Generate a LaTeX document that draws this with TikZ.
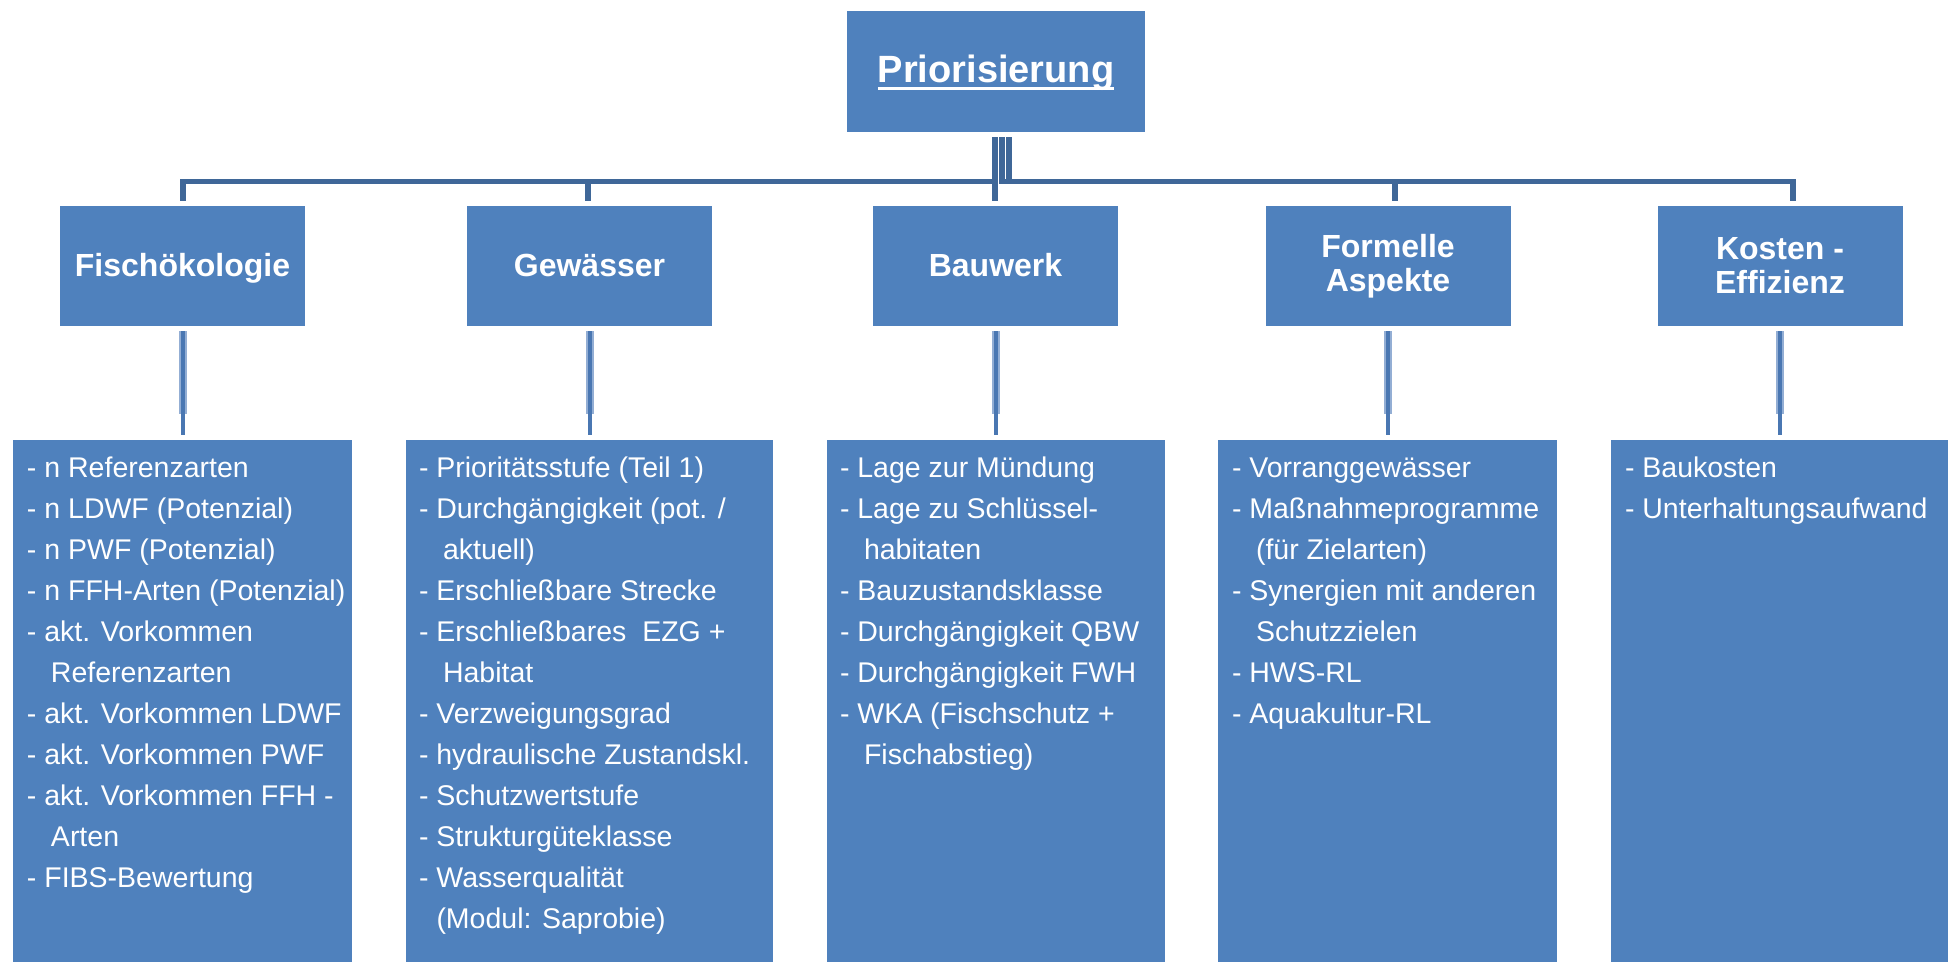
\documentclass[tikz,border=0pt]{standalone}
\usepackage{fontspec}
\setmainfont{Liberation Sans}
\definecolor{boxblue}{HTML}{4F81BD}
\definecolor{linedark}{HTML}{3F6798}
\definecolor{linemid}{HTML}{4A77B2}
\definecolor{linelight}{HTML}{93AED4}
\newsavebox\ulbox
\newcommand\myul[1]{\sbox\ulbox{#1}\rlap{\rule[-7.5pt]{\wd\ulbox}{3pt}}\usebox\ulbox}
\newcommand\cont{\hspace*{24pt}}
\newcommand\firstline{\rule{0pt}{30pt}}
\begin{document}
\begin{tikzpicture}[x=1pt,y=-1pt,
  box/.style={fill=boxblue, draw=none, inner sep=0pt, text=white},
  headbox/.style={box, minimum width=298pt, minimum height=121pt,
    font=\fontsize{38}{44}\selectfont\bfseries, text height=29pt, text depth=8pt},
  catbox/.style={box, minimum width=245pt, minimum height=120pt,
    font=\fontsize{32}{34}\selectfont\bfseries, align=center},
  catone/.style={text height=25pt, text depth=5pt},
  detbox/.style={box, minimum height=522pt},
  dettext/.style={anchor=north west, inner sep=0pt, text=white, align=left,
    font=\fontsize{28.5}{41}\selectfont},
  conn/.style={draw=linedark, line width=5.5pt, shorten <=5pt, shorten >=5pt},
  halo/.style={draw=linelight, line width=8pt, shorten <=5pt, shorten >=26pt},
  lconn/.style={draw=linemid, line width=4pt, shorten <=5pt, shorten >=5pt}
]
\useasboundingbox (0,0) rectangle (1950,962);

% top
\node[headbox] (prio) at (996,71.5) {\myul{Priorisierung}};

% categories
\node[catbox,catone] (fisch) at (182.5,266) {Fischökologie};
\node[catbox,catone] (gew)   at (589.5,266) {Gewässer};
\node[catbox,catone] (bau)   at (995.5,266) {Bauwerk};
\node[catbox]        (form)  at (1388,266)  {Formelle\\Aspekte};
\node[catbox]        (kost)  at (1780,266)  {Kosten -\\Effizienz};

% detail boxes
\node[detbox, minimum width=339pt] (d1) at (182.5,701) {};
\node[detbox, minimum width=367pt] (d2) at (589.5,701) {};
\node[detbox, minimum width=338pt] (d3) at (996,701) {};
\node[detbox, minimum width=339pt] (d4) at (1387.5,701) {};
\node[detbox, minimum width=337pt] (d5) at (1779.5,701) {};

% detail texts
\node[dettext] (t1) at ([xshift=14pt,yshift=-7pt]d1.north west) {%
\firstline- n Referenzarten\\
- n LDWF (Potenzial)\\
- n PWF (Potenzial)\\
- n FFH-Arten (Potenzial)\\
- akt. Vorkommen\\
\cont Referenzarten\\
- akt. Vorkommen LDWF\\
- akt. Vorkommen PWF\\
- akt. Vorkommen FFH -\\
\cont Arten\\
- FIBS-Bewertung};

\node[dettext] (t2) at ([xshift=13pt,yshift=-7pt]d2.north west) {%
\firstline- Prioritätsstufe (Teil 1)\\
- Durchgängigkeit (pot. /\\
\cont aktuell)\\
- Erschließbare Strecke\\
- Erschließbares\ \ EZG +\\
\cont Habitat\\
- Verzweigungsgrad\\
- hydraulische Zustandskl.\\
- Schutzwertstufe\\
- Strukturgüteklasse\\
- Wasserqualität\\
\hspace*{17.5pt}(Modul: Saprobie)};

\node[dettext] (t3) at ([xshift=13pt,yshift=-7pt]d3.north west) {%
\firstline- Lage zur Mündung\\
- Lage zu Schlüssel-\\
\cont habitaten\\
- Bauzustandsklasse\\
- Durchgängigkeit QBW\\
- Durchgängigkeit FWH\\
- WKA (Fischschutz +\\
\cont Fischabstieg)};

\node[dettext] (t4) at ([xshift=14pt,yshift=-7pt]d4.north west) {%
\firstline- Vorranggewässer\\
- Maßnahmeprogramme\\
\cont (für Zielarten)\\
- Synergien mit anderen\\
\cont Schutzzielen\\
- HWS-RL\\
- Aquakultur-RL};

\node[dettext] (t5) at ([xshift=14pt,yshift=-7pt]d5.north west) {%
\firstline- Baukosten\\
- Unterhaltungsaufwand};

% connectors top -> categories
\draw[conn] ([xshift=-1pt]prio.south) -- ++(0,49.5) -| ([xshift=0.5pt]fisch.north);
\draw[conn] ([xshift=-1pt]prio.south) -- ++(0,49.5) -| ([xshift=-1.5pt]gew.north);
\draw[conn] ([xshift=-1pt]prio.south) -- ([xshift=-0.5pt]bau.north);
\draw[conn] ([xshift=6pt]prio.south) -- ++(0,49.5) -| ([xshift=7pt]form.north);
\draw[conn] ([xshift=13pt]prio.south) -- ++(0,49.5) -| ([xshift=13pt]kost.north);

% connectors categories -> details
\foreach \c/\d in {fisch/d1, gew/d2, bau/d3, form/d4, kost/d5}{
  \draw[halo] (\c.south) -- (\c.south |- \d.north);
  \draw[lconn] (\c.south) -- (\c.south |- \d.north);
}
\end{tikzpicture}
\end{document}
